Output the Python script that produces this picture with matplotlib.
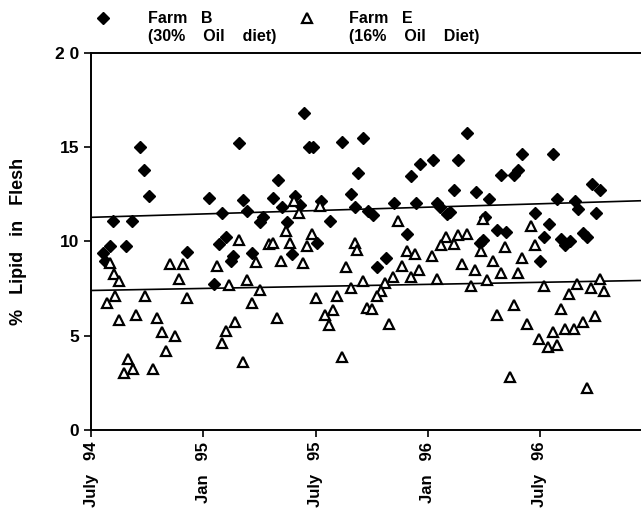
import matplotlib
matplotlib.use("Agg")
import matplotlib.pyplot as plt

plt.rcParams['font.family'] = ['Liberation Sans', 'DejaVu Sans']
plt.rcParams['font.weight'] = 'bold'

# months since July 1994
farm_b_month = [2.62, 2.83, 3.08, 6.31, 1.19, 2.18, 7.00, 1.02, 1.89, 0.63,
                0.76, 5.15, 6.83, 7.22, 7.47, 6.59, 7.61, 11.38, 7.91, 11.64,
                11.88, 13.43, 9.98, 8.14, 9.74, 10.92, 10.21, 11.17, 12.31, 13.90,
                14.26, 8.35, 14.11, 9.18, 9.03, 10.49, 12.76, 12.10, 8.61, 10.73,
                14.55, 20.08, 17.10, 17.59, 18.26, 19.63, 19.42, 20.56, 14.82, 15.06,
                16.20, 17.36, 18.48, 18.65, 19.01, 19.19, 21.29, 21.06, 16.91, 20.97,
                20.79, 15.77, 15.30, 23.05, 24.68, 21.93, 22.63, 22.84, 26.76, 27.21,
                24.89, 25.85, 26.05, 26.99, 23.75, 24.46, 21.72, 22.17, 24.23, 25.14,
                25.35, 25.60, 26.31, 26.53, 24.00]
farm_b_lipid = [14.99, 13.79, 12.40, 12.31, 11.11, 11.11, 11.52, 9.75, 9.75, 9.40,
                8.94, 9.42, 9.84, 10.23, 8.99, 7.74, 9.21, 16.81, 15.22, 14.99,
                14.99, 15.29, 13.26, 12.22, 12.33, 12.43, 11.85, 11.92, 12.17, 12.52,
                13.61, 11.60, 11.82, 11.29, 11.02, 11.02, 11.11, 9.93, 9.38, 9.33,
                15.50, 15.73, 13.49, 14.11, 14.32, 14.32, 12.74, 12.63, 11.59, 11.41,
                12.03, 12.03, 12.06, 11.85, 11.46, 11.55, 12.24, 11.29, 10.41, 10.09,
                9.91, 9.14, 8.64, 14.64, 14.64, 13.51, 13.53, 13.81, 13.03, 12.75,
                12.24, 12.17, 11.73, 11.52, 11.52, 10.93, 10.63, 10.51, 10.23, 10.14,
                9.79, 10.02, 10.44, 10.23, 8.94]

farm_e_month = [1.02, 1.23, 1.51, 4.22, 4.90, 6.75, 4.69, 0.87, 1.28, 2.87,
                5.15, 1.51, 2.41, 3.54, 3.78, 4.47, 4.01, 7.22, 7.00, 1.99,
                2.23, 1.76, 3.33, 7.39, 10.85, 12.24, 11.12, 10.42, 11.80, 7.91,
                9.53, 9.74, 10.64, 11.56, 14.10, 14.23, 8.82, 10.17, 11.35, 13.63,
                8.35, 9.05, 8.59, 12.04, 13.16, 13.88, 7.68, 9.96, 12.49, 12.95,
                12.74, 8.14, 13.42, 16.43, 20.97, 18.96, 19.63, 20.08, 18.71, 19.40,
                20.86, 16.87, 17.33, 18.23, 16.61, 17.55, 19.83, 20.54, 16.16, 17.09,
                18.48, 14.55, 15.71, 15.48, 15.27, 14.74, 15.02, 15.94, 20.31, 21.18,
                23.50, 23.73, 22.13, 21.47, 23.05, 21.91, 22.84, 24.20, 25.99, 27.21,
                25.57, 26.73, 27.42, 22.59, 25.11, 21.69, 23.29, 26.96, 26.28, 25.35,
                25.82, 24.68, 23.96, 24.43, 24.89, 22.38, 26.50]
farm_e_lipid = [8.85, 8.29, 7.88, 8.82, 8.82, 8.71, 7.99, 6.72, 7.09, 7.09,
                7.02, 5.86, 6.10, 5.93, 5.22, 5.01, 4.20, 5.25, 4.62, 3.74,
                3.21, 3.00, 3.21, 7.67, 12.17, 11.90, 11.50, 10.58, 10.41, 10.09,
                9.84, 9.91, 9.91, 9.74, 9.91, 9.56, 8.91, 8.99, 8.85, 8.62,
                7.94, 7.44, 6.74, 7.02, 7.11, 7.51, 5.73, 5.94, 6.12, 6.35,
                5.59, 3.61, 3.85, 11.11, 11.20, 10.23, 10.33, 10.41, 9.80, 9.88,
                9.49, 9.52, 9.31, 9.22, 8.71, 8.50, 8.82, 8.50, 8.11, 8.11,
                7.99, 7.92, 7.78, 7.37, 7.09, 6.49, 6.42, 5.61, 7.64, 7.94,
                10.83, 9.83, 9.70, 8.99, 9.12, 8.32, 8.32, 7.62, 7.72, 8.03,
                7.23, 7.53, 7.37, 6.61, 6.44, 6.10, 5.61, 6.03, 5.75, 5.36,
                5.36, 5.22, 4.85, 4.41, 4.50, 2.82, 2.21]

trend_month = [0, 29.4]
trend_b = [11.28, 12.16]
trend_e = [7.40, 7.93]

tick_month = [0, 6, 12, 18, 24]
tick_labels = ['July   94', 'Jan   95', 'July   95', 'Jan   96', 'July   96']

fig = plt.figure(figsize=(6.41, 5.19), dpi=100)
ax = fig.add_axes([0.142, 0.1715, 0.858, 0.7265])

ax.plot(trend_month, trend_b, color='black', lw=1.2)
ax.plot(trend_month, trend_e, color='black', lw=1.2)
ax.plot(farm_b_month, farm_b_lipid, 'D', color='black', ms=6.5, ls='none')
ax.plot(farm_e_month, farm_e_lipid, '^', mfc='white', mec='black', mew=1.6,
        ms=6.8, ls='none')

ax.set_xlim(0, 29.4)
ax.set_ylim(0, 20)
ax.set_yticks([0, 5, 10, 15, 20])
ax.set_yticklabels(['0', '5', '10', '15', '2 0'], fontsize=12.5, fontweight='bold')
ax.set_xticks(tick_month)
ax.set_xticklabels(tick_labels, rotation=90, fontsize=12, fontweight='bold')
ax.tick_params(axis='both', direction='out', length=5, width=1.2)
ax.spines['right'].set_visible(False)
for s in ['left', 'top', 'bottom']:
    ax.spines[s].set_linewidth(1.4)

ax.set_ylabel('%   Lipid   in   Flesh', fontsize=13, fontweight='bold', labelpad=20)

# legend
ax.plot([0.161], [0.965], 'D', color='black', ms=6.5, transform=fig.transFigure, clip_on=False)
ax.plot([0.479], [0.965], '^', mfc='white', mec='black', mew=1.6, ms=6.8,
        transform=fig.transFigure, clip_on=False)
fig.text(0.231, 0.965, 'Farm   B', fontsize=11.5, fontweight='bold', va='center')
fig.text(0.231, 0.929, '(30%    Oil    diet)', fontsize=11.5, fontweight='bold', va='center')
fig.text(0.545, 0.965, 'Farm   E', fontsize=11.5, fontweight='bold', va='center')
fig.text(0.545, 0.929, '(16%    Oil    Diet)', fontsize=11.5, fontweight='bold', va='center')

fig.savefig('out.png', dpi=100)
